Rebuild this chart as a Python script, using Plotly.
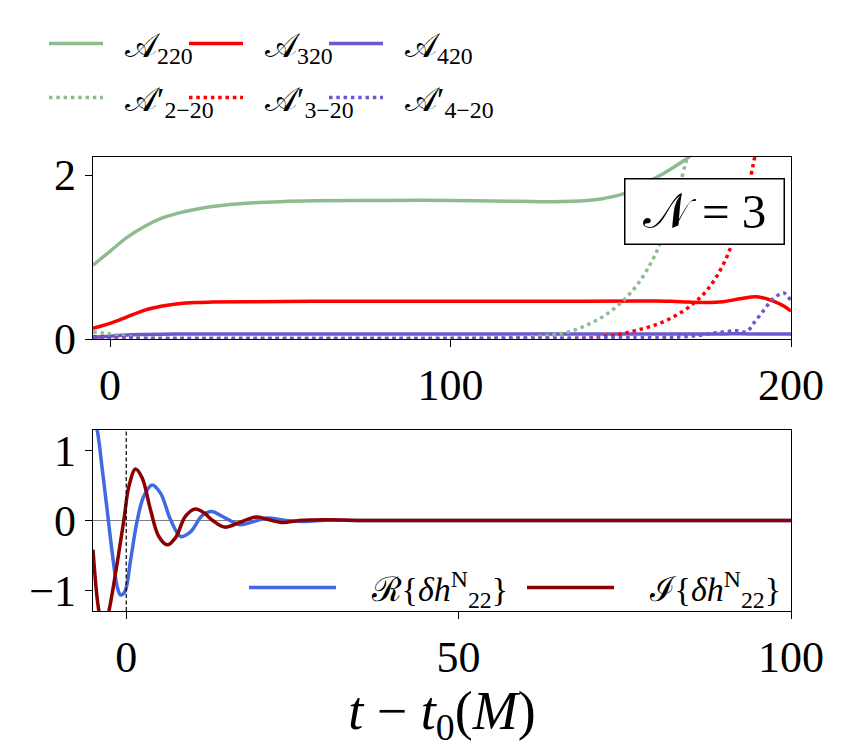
import plotly.graph_objects as go

W, H = 842, 748

# ---------------- top panel data ----------------
t_a220 = [-5, 0, 5, 10, 15, 20, 25, 30, 40, 50, 60, 80, 100, 120, 130, 140, 145, 150, 155, 160, 165, 170, 175]
a220 = [0.90, 1.07, 1.24, 1.37, 1.47, 1.535, 1.58, 1.615, 1.655, 1.675, 1.685, 1.69, 1.69, 1.68, 1.675, 1.69, 1.715, 1.76, 1.855, 1.96, 2.08, 2.22, 2.38]

t_a320 = [-5, 0, 5, 10, 15, 20, 25, 30, 40, 60, 100, 140, 155, 160, 165, 170, 175, 180, 185, 190, 195, 198, 200]
a320 = [0.13, 0.19, 0.27, 0.35, 0.40, 0.43, 0.445, 0.45, 0.455, 0.46, 0.46, 0.46, 0.462, 0.465, 0.46, 0.45, 0.445, 0.455, 0.49, 0.515, 0.46, 0.40, 0.34]

t_a420 = [-5, 0, 5, 10, 20, 60, 100, 140, 170, 180, 185, 190, 195, 200]
a420 = [0.02, 0.035, 0.05, 0.055, 0.06, 0.06, 0.06, 0.06, 0.06, 0.06, 0.065, 0.06, 0.06, 0.06]

t_b2 = [-5, 0, 5, 10, 20, 60, 100, 120, 130, 135, 140, 145, 150, 155, 160, 165, 170]
b2 = [0.09, 0.06, 0.03, 0.01, 0.0, 0.0, 0.005, 0.02, 0.05, 0.09, 0.17, 0.28, 0.44, 0.67, 1.02, 1.55, 2.3]

t_b3 = [-5, 0, 10, 60, 100, 140, 145, 150, 155, 160, 165, 170, 175, 180, 185, 190]
b3 = [0.03, 0.02, 0.0, 0.0, 0.0, 0.01, 0.03, 0.06, 0.11, 0.17, 0.26, 0.39, 0.58, 0.90, 1.45, 2.35]

t_b4 = [-5, 0, 10, 60, 100, 150, 165, 170, 174, 178, 181, 184, 187, 189, 192, 195, 198, 200]
b4 = [0.02, 0.015, 0.01, 0.01, 0.01, 0.015, 0.02, 0.03, 0.05, 0.075, 0.09, 0.10, 0.09, 0.19, 0.35, 0.50, 0.56, 0.46]

# ---------------- bottom panel data ----------------
t_re = [-5.5, -4.37, -3.6, -2.87, -2.1, -1.36, -0.86, -0.2, 0.65, 1.65, 2.65, 3.9, 5.17, 6.67, 8.2, 9.7, 11.4, 12.8, 15, 17.1, 19, 21.1, 24, 27, 30, 35, 40, 100]
re = [1.75, 1.3, 0.73, 0.15, -0.47, -0.95, -1.07, -1.02, -0.57, 0.0, 0.35, 0.51, 0.39, 0.01, -0.23, -0.16, 0.07, 0.13, 0.03, -0.06, -0.02, 0.035, 0.0, -0.015, 0.005, 0.0, 0.0, 0.0]

t_im = [-5, -4.1, -3.35, -2.6, -1.36, -0.35, 0.4, 1.4, 2.4, 3.66, 4.9, 6.17, 7.4, 8.9, 10.4, 11.7, 13, 14.8, 17, 19.6, 21.5, 23.6, 26, 30, 35, 100]
im = [-0.42, -1.31, -1.58, -1.3, -0.61, 0.01, 0.49, 0.74, 0.61, 0.15, -0.23, -0.35, -0.25, 0.06, 0.164, 0.11, 0.0, -0.095, -0.03, 0.05, 0.01, -0.03, 0.0, 0.01, 0.0, 0.0]

top_xticks = [0, 100, 200]
top_yticks = [0, 2]
bot_xticks = [0, 50, 100]
bot_yticks = [-1, 0, 1]

GREEN = "#8FBC8F"
RED = "#FF0000"
PURPLE = "#6A5ACD"
BLUE = "#4169E1"
DARKRED = "#8B0000"
FONT = "Liberation Serif, DejaVu Serif, serif"
GAP = "\u2002"

fig = go.Figure()

def add_top(x, y, color, name, dotted, legend, lw):
    fig.add_trace(go.Scatter(
        x=x, y=y, mode="lines", name=GAP + name, xaxis="x", yaxis="y", legend=legend,
        legendwidth=lw,
        line=dict(color=color, width=3.5, shape="spline", dash="3.5px,3.8px" if dotted else "solid"),
    ))

add_top(t_a220, a220, GREEN, "𝒜<sub>220</sub>", False, "legend", 71)
add_top(t_a320, a320, RED, "𝒜<sub>320</sub>", False, "legend", 71)
add_top(t_a420, a420, PURPLE, "𝒜<sub>420</sub>", False, "legend", 160)
add_top(t_b2, b2, GREEN, "𝒜′<sub>2−20</sub>", True, "legend2", 71)
add_top(t_b3, b3, RED, "𝒜′<sub>3−20</sub>", True, "legend2", 71)
add_top(t_b4, b4, PURPLE, "𝒜′<sub>4−20</sub>", True, "legend2", 160)

BGAP = "\u2002\u2009\u2009"
fig.add_trace(go.Scatter(x=t_re, y=re, mode="lines", name=BGAP + "ℛ{<i>δh</i><sup>N</sup><sub>22</sub>}",
                         xaxis="x2", yaxis="y2", legend="legend3", legendwidth=176,
                         line=dict(color=BLUE, width=3.5, shape="spline")))
fig.add_trace(go.Scatter(x=t_im, y=im, mode="lines", name=BGAP + "ℐ{<i>δh</i><sup>N</sup><sub>22</sub>}",
                         xaxis="x2", yaxis="y2", legend="legend3", legendwidth=210,
                         line=dict(color=DARKRED, width=3.5, shape="spline")))

xdom = [93 / W, 791 / W]
axis_common = dict(showline=True, mirror=True, linecolor="black", linewidth=1.2,
                   ticks="outside", ticklen=7, tickwidth=1.2, tickcolor="black",
                   showgrid=False, zeroline=False, automargin=False,
                   tickfont=dict(family=FONT, size=44, color="black"))

fig.update_layout(
    width=W, height=H,
    margin=dict(l=0, r=0, t=0, b=0),
    paper_bgcolor="white", plot_bgcolor="white",
    font=dict(family=FONT, color="black"),
    xaxis=dict(domain=xdom, anchor="y", range=[-5, 200], tickvals=top_xticks, **axis_common),
    yaxis=dict(domain=[1 - 339 / H, 1 - 157 / H], anchor="x", range=[0, 2.22], tickvals=top_yticks, **axis_common),
    xaxis2=dict(domain=xdom, anchor="y2", range=[-5, 100], tickvals=bot_xticks,
                title=dict(text="<i>t</i> − <i>t</i><sub>0</sub>(<i>M</i>)", font=dict(family=FONT, size=54), standoff=0),
                **axis_common),
    yaxis2=dict(domain=[1 - 611 / H, 1 - 430 / H], anchor="x2", range=[-1.3, 1.3], tickvals=bot_yticks,
                **{**axis_common, "zeroline": True}, zerolinecolor="#808080", zerolinewidth=1.2),
    legend=dict(orientation="h", x=44 / W, y=1 - 44 / H, xanchor="left", yanchor="middle",
                itemwidth=54, font=dict(family=FONT, size=34), bgcolor="rgba(0,0,0,0)"),
    legend2=dict(orientation="h", x=44 / W, y=1 - 98 / H, xanchor="left", yanchor="middle",
                 itemwidth=54, font=dict(family=FONT, size=34), bgcolor="rgba(0,0,0,0)"),
    legend3=dict(orientation="h", x=244 / W, y=1 - 588 / H, xanchor="left", yanchor="middle",
                 itemwidth=87, font=dict(family=FONT, size=34), bgcolor="rgba(0,0,0,0)"),
    showlegend=True,
)

fig.add_shape(type="line", xref="x2", yref="y2 domain", x0=0, x1=0, y0=0, y1=1,
              line=dict(color="black", width=1.2, dash="4px,2.5px"))

fig.add_annotation(xref="paper", yref="paper", x=704.5 / W, y=1 - 211 / H,
                   xanchor="center", yanchor="middle",
                   text="𝒩 = 3", showarrow=False, font=dict(family=FONT, size=49, color="black"),
                   bgcolor="white", bordercolor="black", borderwidth=1.5, borderpad=2,
                   width=154, height=60)

fig.write_html("out.html")
